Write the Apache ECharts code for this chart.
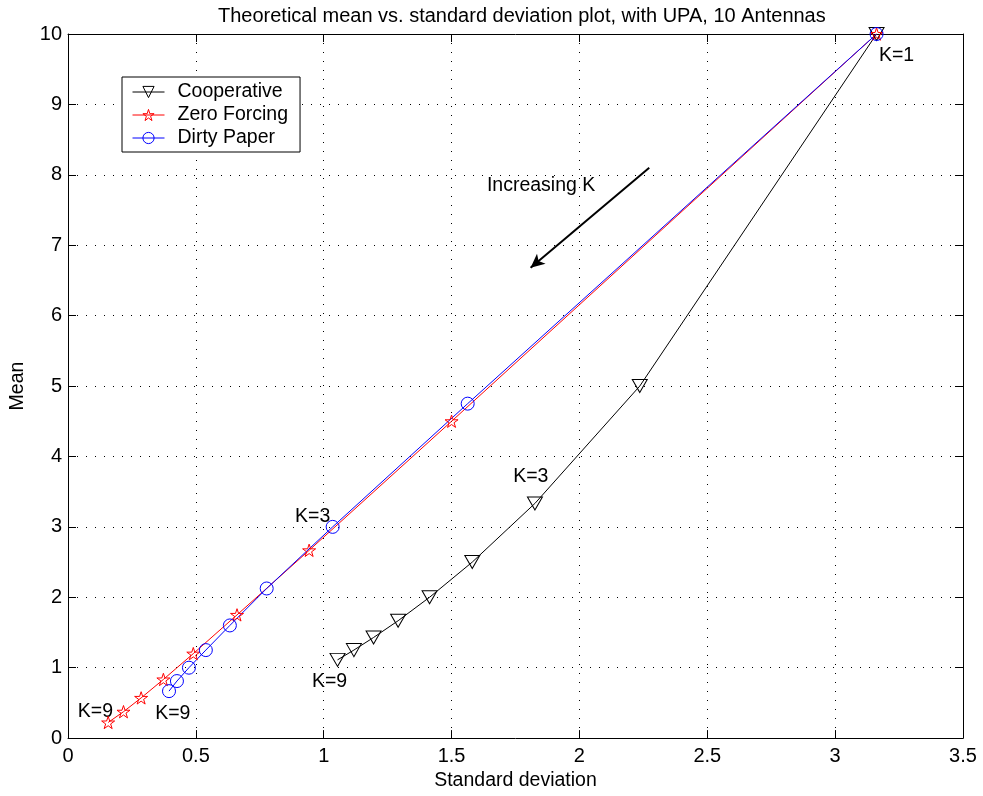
<!DOCTYPE html>
<html>
<head>
<meta charset="utf-8">
<script src="https://cdn.jsdelivr.net/npm/echarts@6/dist/echarts.min.js"></script>
<style>html,body{margin:0;padding:0;background:#fff;}#c{width:983px;height:796px;}</style>
</head>
<body>
<div id="c"></div>
<script>
// ---- data ----
const seriesNames = ['Cooperative', 'Zero Forcing', 'Dirty Paper'];
const sdCoop   = [3.162, 2.236, 1.826, 1.581, 1.414, 1.291, 1.195, 1.118, 1.054];
const meanCoop = [10, 5, 3.333, 2.5, 2, 1.667, 1.429, 1.25, 1.111];
const sdZF     = [3.162, 1.5, 0.943, 0.661, 0.49, 0.373, 0.286, 0.217, 0.157];
const meanZF   = [10, 4.5, 2.667, 1.75, 1.2, 0.833, 0.571, 0.375, 0.222];
const sdDP     = [3.162, 1.563, 1.035, 0.777, 0.633, 0.539, 0.473, 0.426, 0.395];
const meanDP   = [10, 4.75, 3.0, 2.125, 1.6, 1.25, 1.0, 0.81, 0.667];
const xTicks = [0, 0.5, 1, 1.5, 2, 2.5, 3, 3.5];
const yTicks = [0, 1, 2, 3, 4, 5, 6, 7, 8, 9, 10];
const annoText = ['K=1', 'Increasing K', 'K=3', 'K=3', 'K=9', 'K=9', 'K=9'];
const annoX    = [3.24, 1.85, 0.957, 1.81, 1.023, 0.107, 0.41];
const annoY    = [9.69, 7.84, 3.15, 3.71, 0.806, 0.38, 0.354];
const arrowFrom = [2.273, 8.10];
const arrowTo   = [1.809, 6.68];

const zip = (a, b) => a.map((v, i) => [v, b[i]]);
const FONT = 'Liberation Sans, Arial, Helvetica, sans-serif';
const STAR = 'path://M0,-10 L2.245,-3.09 L9.511,-3.09 L3.633,1.18 L5.878,8.09 L0,3.82 L-5.878,8.09 L-3.633,1.18 L-9.511,-3.09 L-2.245,-3.09 Z';

const chart = echarts.init(document.getElementById('c'), null, {renderer: 'canvas'});
const gridLine = {show: true, lineStyle: {color: '#000', width: 1, type: [1, 8]}};
const axisBase = {
  type: 'value',
  axisLine: {show: true, onZero: false, lineStyle: {color: '#000', width: 1}},
  axisTick: {show: true, inside: true, length: 8, lineStyle: {color: '#000'}},
};
const option = {
  animation: false,
  backgroundColor: '#fff',
  textStyle: {fontFamily: FONT},
  title: {
    text: 'Theoretical mean vs. standard deviation plot, with UPA, 10 Antennas',
    left: 213, top: 1,
    textStyle: {fontFamily: FONT, fontSize: 20, fontWeight: 'normal', color: '#000'}
  },
  grid: {left: 67, right: 20, top: 34, bottom: 55, containLabel: false},
  legend: {
    data: seriesNames,
    orient: 'vertical',
    left: 122, top: 77,
    padding: [5, 12, 4, 10],
    itemWidth: 32, itemHeight: 14, itemGap: 3,
    backgroundColor: '#fff',
    borderColor: '#000', borderWidth: 1, borderRadius: 0,
    lineStyle: {width: 1},
    itemStyle: {color: 'rgba(0,0,0,0)', borderWidth: 1},
    textStyle: {fontFamily: FONT, fontSize: 19.5, color: '#000', lineHeight: 20, padding: [0, 0, 0, 8]}
  },
  xAxis: [
    Object.assign({}, axisBase, {
      min: xTicks[0], max: xTicks[xTicks.length - 1], interval: xTicks[1] - xTicks[0],
      position: 'bottom',
      name: 'Standard deviation', nameLocation: 'middle', nameGap: 31,
      nameTextStyle: {fontFamily: FONT, fontSize: 19.5, color: '#000'},
      axisLabel: {show: true, margin: 8, color: '#000', fontFamily: FONT, fontSize: 20},
      splitLine: gridLine
    }),
    Object.assign({}, axisBase, {
      min: xTicks[0], max: xTicks[xTicks.length - 1], interval: xTicks[1] - xTicks[0],
      position: 'top', axisLabel: {show: false}, splitLine: {show: false}
    })
  ],
  yAxis: [
    Object.assign({}, axisBase, {
      min: yTicks[0], max: yTicks[yTicks.length - 1], interval: yTicks[1] - yTicks[0],
      position: 'left',
      name: 'Mean', nameLocation: 'middle', nameGap: 40,
      nameTextStyle: {fontFamily: FONT, fontSize: 19.5, color: '#000'},
      axisLabel: {show: true, margin: 6, color: '#000', fontFamily: FONT, fontSize: 20},
      splitLine: gridLine
    }),
    Object.assign({}, axisBase, {
      min: yTicks[0], max: yTicks[yTicks.length - 1], interval: yTicks[1] - yTicks[0],
      position: 'right', axisLabel: {show: false}, splitLine: {show: false}
    })
  ],
  series: [
    {
      name: seriesNames[0], type: 'line', data: zip(sdCoop, meanCoop),
      xAxisIndex: 0, yAxisIndex: 0,
      symbol: 'triangle', symbolRotate: 180, symbolSize: [15, 13], showAllSymbol: true,
      lineStyle: {color: '#000', width: 1},
      itemStyle: {color: 'rgba(0,0,0,0)', borderColor: '#000', borderWidth: 1}
    },
    {
      name: seriesNames[1], type: 'line', data: zip(sdZF, meanZF),
      xAxisIndex: 0, yAxisIndex: 0,
      symbol: STAR, symbolKeepAspect: true, symbolSize: 13, showAllSymbol: true,
      lineStyle: {color: '#ff0000', width: 1},
      itemStyle: {color: 'rgba(0,0,0,0)', borderColor: '#ff0000', borderWidth: 1}
    },
    {
      name: seriesNames[2], type: 'line', data: zip(sdDP, meanDP),
      xAxisIndex: 0, yAxisIndex: 0,
      symbol: 'circle', symbolSize: 13, showAllSymbol: true,
      lineStyle: {color: '#0000ff', width: 1},
      itemStyle: {color: 'rgba(0,0,0,0)', borderColor: '#0000ff', borderWidth: 1}
    },
    {
      name: 'annotations', type: 'scatter', silent: true,
      xAxisIndex: 0, yAxisIndex: 0,
      data: annoText.map((t, i) => [annoX[i], annoY[i], t]),
      symbolSize: 1,
      itemStyle: {color: 'rgba(0,0,0,0)', opacity: 1},
      label: {
        show: true, position: 'inside', formatter: p => p.value[2],
        color: '#000', opacity: 1, textBorderWidth: 0, textBorderColor: 'transparent',
        fontFamily: FONT, fontSize: 19.5
      },
      markLine: {
        silent: true,
        symbol: ['none', 'arrow'], symbolSize: [10, 14],
        lineStyle: {color: '#000', width: 2, type: 'solid', opacity: 1},
        label: {show: false},
        data: [[{coord: arrowFrom}, {coord: arrowTo}]]
      }
    }
  ]
};
chart.setOption(option);
</script>
</body>
</html>
